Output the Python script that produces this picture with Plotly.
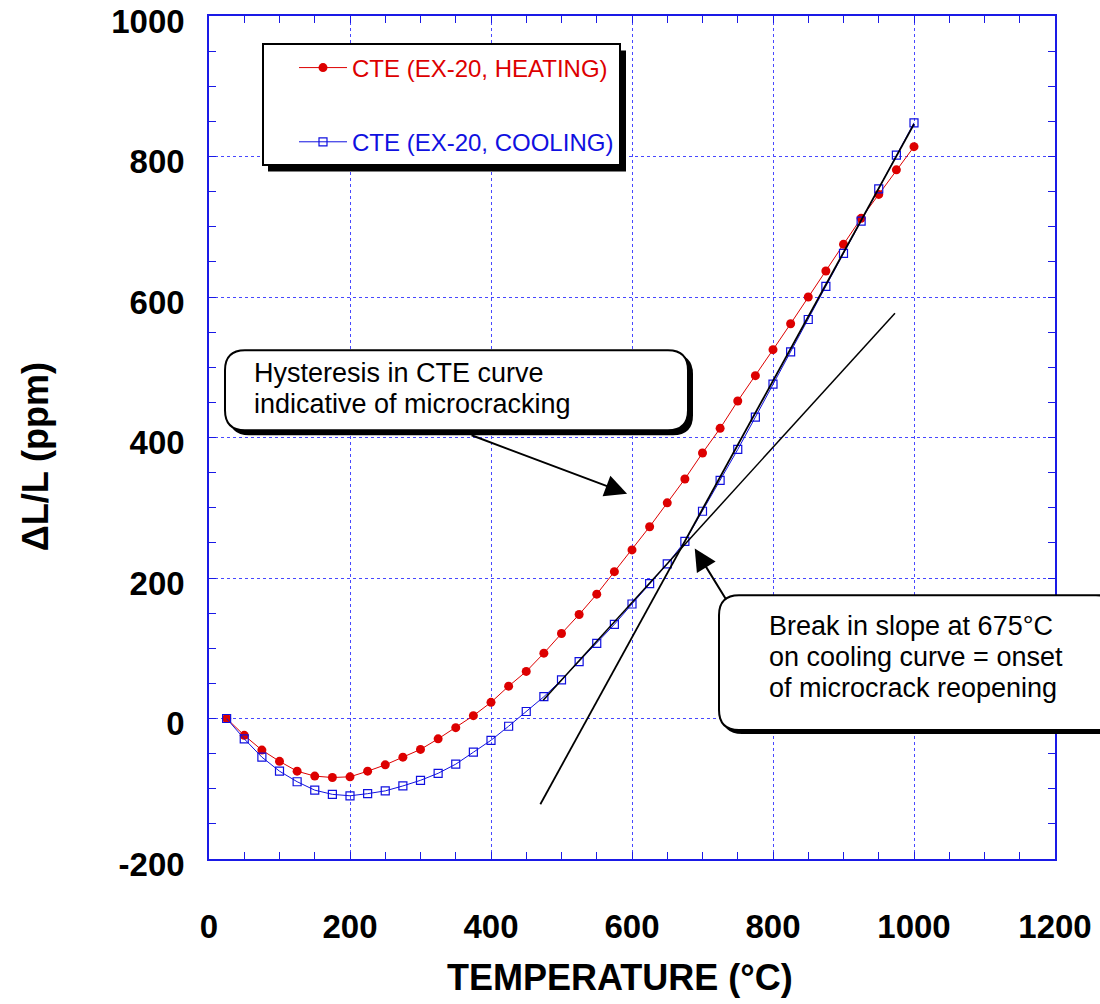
import plotly.graph_objects as go

# ---------------- data ----------------
temperature = [25, 50, 75, 100, 125, 150, 175, 200, 225, 250, 275, 300, 325, 350, 375, 400,
               425, 450, 475, 500, 525, 550, 575, 600, 625, 650, 675, 700, 725, 750, 775, 800,
               825, 850, 875, 900, 925, 950, 975, 1000]
heating = [0, -24, -45, -61, -75, -82, -84, -83, -75, -66, -55, -44, -29, -13, 4, 23,
           46, 67, 93, 121, 148, 177, 209, 240, 273, 307, 341, 378, 413, 452, 488, 525,
           562, 600, 637, 675, 712, 746, 781, 814]
cooling = [0, -29, -55, -75, -90, -102, -108, -110, -107, -103, -96, -88, -78, -65, -48, -31,
           -11, 10, 31, 55, 81, 107, 134, 163, 192, 220, 252, 295, 339, 383, 429, 476,
           522, 568, 615, 662, 708, 754, 802, 848]

tangent_low_T = [474, 973]
tangent_low_dL = [26, 577]
tangent_high_T = [470, 1000]
tangent_high_dL = [-122, 846]

x_ticks = [0, 200, 400, 600, 800, 1000, 1200]
x_tick_text = ["0", "200", "400", "600", "800", "1000", "1200"]
y_ticks = [-200, 0, 200, 400, 600, 800, 1000]
y_tick_text = ["-200", "0", "200", "400", "600", "800", "1000"]

heating_name = "CTE (EX-20, HEATING)"
cooling_name = "CTE (EX-20, COOLING)"
x_title = "TEMPERATURE (°C)"
y_title = "ΔL/L (ppm)"
note_hysteresis = ["Hysteresis in CTE curve", "indicative of microcracking"]
note_break = ["Break in slope at 675°C", "on cooling curve = onset", "of microcrack reopening"]
hyst_arrow_point = (593, 320)
break_arrow_point = (689, 242)

# ---------------- style ----------------
FONT = "Liberation Sans, Arial, Helvetica, sans-serif"
RED = "#dd0000"
BLUE = "#1010e0"
AXIS_BLUE = "#1a1ae6"
GRID_BLUE = "#4848ff"

W, H = 1100, 1004
L, R, T, B = 209, 1055, 15.5, 859


def paper(px, py):
    return ((px - L) / (R - L), (B - py) / (B - T))


def rounded_path(x0, y0, x1, y1, r):
    def p(x, y):
        u, v = paper(x, y)
        return f"{u:.5f},{v:.5f}"
    return (f"M{p(x0 + r, y0)} L{p(x1 - r, y0)} Q{p(x1, y0)} {p(x1, y0 + r)} "
            f"L{p(x1, y1 - r)} Q{p(x1, y1)} {p(x1 - r, y1)} L{p(x0 + r, y1)} "
            f"Q{p(x0, y1)} {p(x0, y1 - r)} L{p(x0, y0 + r)} Q{p(x0, y0)} {p(x0 + r, y0)} Z")


fig = go.Figure()

fig.add_trace(go.Scatter(
    x=temperature, y=heating, mode="lines+markers",
    name=f'<span style="color:{RED}">{heating_name}</span>',
    line=dict(color=RED, width=1),
    marker=dict(symbol="circle", size=9, color=RED),
    legendgroup="h",
))
fig.add_trace(go.Scatter(
    x=temperature, y=cooling, mode="lines+markers",
    name=f'<span style="color:{BLUE}">{cooling_name}</span>',
    line=dict(color=BLUE, width=1),
    marker=dict(symbol="square-open", size=8, color=BLUE, line=dict(width=1.2, color=BLUE)),
    legendgroup="c",
))
fig.add_trace(go.Scatter(
    x=tangent_low_T, y=tangent_low_dL, mode="lines",
    line=dict(color="black", width=1.5), showlegend=False, hoverinfo="skip",
))
fig.add_trace(go.Scatter(
    x=tangent_high_T, y=tangent_high_dL, mode="lines",
    line=dict(color="black", width=1.8), showlegend=False, hoverinfo="skip",
))

axis_common = dict(
    ticks="inside", ticklen=7, tickwidth=1, tickcolor=AXIS_BLUE,
    showline=True, linecolor=AXIS_BLUE, linewidth=1.5, mirror="ticks",
    showgrid=True, gridcolor=GRID_BLUE, griddash="dot", gridwidth=1,
    zeroline=False, ticklabeloverflow="allow", automargin=False,
    tickfont=dict(family=FONT, size=33, color="black", weight="bold"),
    minor=dict(dtick=50, ticks="inside", ticklen=7, tickcolor=AXIS_BLUE, showgrid=False),
)

fig.update_layout(
    width=W, height=H,
    margin=dict(l=L, r=W - R, t=T, b=H - B, pad=0, autoexpand=False),
    paper_bgcolor="white", plot_bgcolor="white",
    xaxis=dict(range=[0, 1200], tickmode="array", tickvals=x_ticks, ticktext=x_tick_text,
               ticklabelstandoff=38, **axis_common),
    yaxis=dict(range=[-200, 1000], tickmode="array", tickvals=y_ticks, ticktext=y_tick_text,
               ticklabelstandoff=16, ticklabelshift=5, **axis_common),
    showlegend=True,
    legend=dict(
        x=paper(262, 43)[0], y=paper(262, 43)[1], xanchor="left", yanchor="top",
        bgcolor="white", bordercolor="black", borderwidth=2,
        font=dict(family=FONT, size=24, color="black"),
        traceorder="grouped", tracegroupgap=40,
        itemwidth=48, indentation=30,
    ),
)

shapes = []
# legend shadow
lx0, ly0 = paper(268, 50)
lx1, ly1 = paper(626, 171)
shapes.append(dict(type="rect", xref="paper", yref="paper", x0=lx0, y0=ly0, x1=lx1, y1=ly1,
                   fillcolor="black", line=dict(width=0), layer="above"))
# hysteresis box
shapes.append(dict(type="path", xref="paper", yref="paper", path=rounded_path(229, 354, 693, 435, 20),
                   fillcolor="black", line=dict(width=0), layer="above"))
shapes.append(dict(type="path", xref="paper", yref="paper", path=rounded_path(225, 350, 688, 430, 20),
                   fillcolor="white", line=dict(color="black", width=2), layer="above"))
# break box
shapes.append(dict(type="path", xref="paper", yref="paper", path=rounded_path(722, 599, 1120, 734, 20),
                   fillcolor="black", line=dict(width=0), layer="above"))
shapes.append(dict(type="path", xref="paper", yref="paper", path=rounded_path(719, 595, 1116, 730, 20),
                   fillcolor="white", line=dict(color="black", width=2), layer="above"))
fig.update_layout(shapes=shapes)

annotations = []
for i, line in enumerate(note_hysteresis):
    u, v = paper(251.7, 372.5 + 31.6 * i)
    annotations.append(dict(xref="paper", yref="paper", x=u, y=v, xanchor="left", yanchor="middle",
                            text=line, showarrow=False, font=dict(family=FONT, size=27, color="black")))
for i, line in enumerate(note_break):
    u, v = paper(766.7, 626 + 31 * i)
    annotations.append(dict(xref="paper", yref="paper", x=u, y=v, xanchor="left", yanchor="middle",
                            text=line, showarrow=False, font=dict(family=FONT, size=27, color="black")))
# arrows
annotations.append(dict(x=hyst_arrow_point[0], y=hyst_arrow_point[1], xref="x", yref="y",
                        ax=-157, ay=-59, text="", showarrow=True, arrowhead=2, arrowsize=2.2,
                        arrowwidth=2, arrowcolor="black", standoff=0))
annotations.append(dict(x=break_arrow_point[0], y=break_arrow_point[1], xref="x", yref="y",
                        ax=32, ay=52, text="", showarrow=True, arrowhead=2, arrowsize=2.2,
                        arrowwidth=2, arrowcolor="black", standoff=0))
# axis titles
u, v = paper(620, 978)
annotations.append(dict(xref="paper", yref="paper", x=u, y=v, xanchor="center", yanchor="middle",
                        text=x_title, showarrow=False,
                        font=dict(family=FONT, size=36, color="black", weight="bold")))
u, v = paper(35, 457)
annotations.append(dict(xref="paper", yref="paper", x=u, y=v, xanchor="center", yanchor="middle",
                        text=y_title, textangle=-90, showarrow=False,
                        font=dict(family=FONT, size=36, color="black", weight="bold")))
fig.update_layout(annotations=annotations)

fig.write_html("out.html")
